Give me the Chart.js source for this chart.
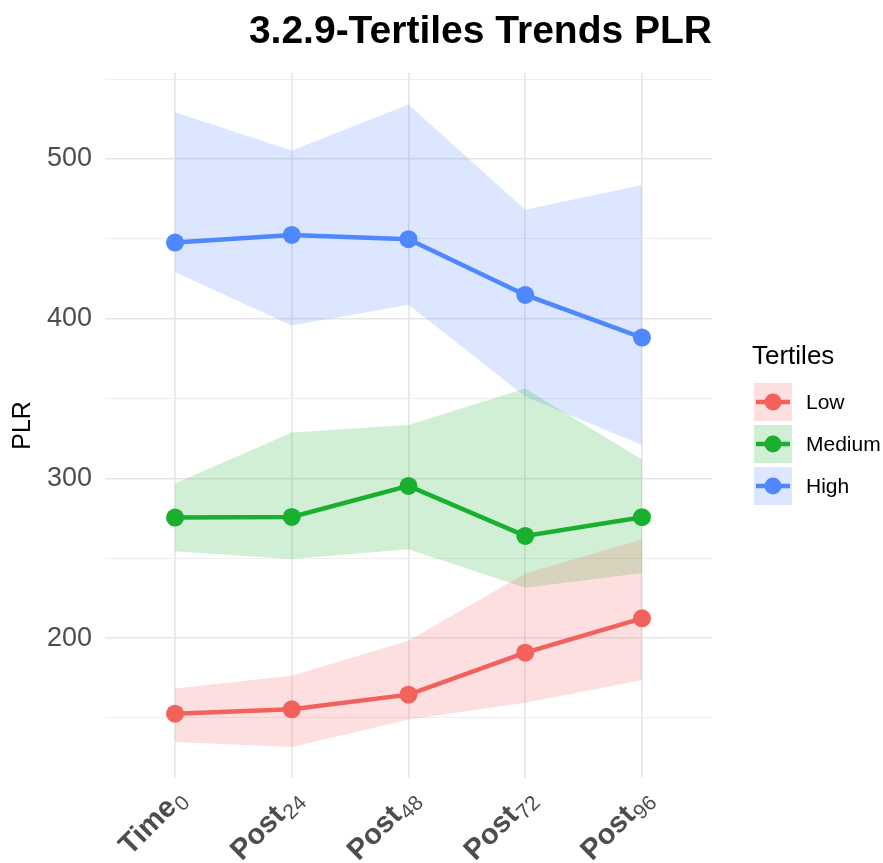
<!DOCTYPE html>
<html>
<head>
<meta charset="utf-8">
<title>3.2.9-Tertiles Trends PLR</title>
<script src="https://cdn.jsdelivr.net/npm/chart.js@4.4.1/dist/chart.umd.min.js"></script>
<style>
  html, body { margin: 0; padding: 0; background: #ffffff; }
  #plr-chart { display: block; }
</style>
</head>
<body>
<canvas id="plr-chart" width="883" height="863"></canvas>
<script>
// x categories: bold main text + subscript
const labelMain = ['Time', 'Post', 'Post', 'Post', 'Post'];
const labelSub = ['0', '24', '48', '72', '96'];

// y ticks (labels at the hundreds, minor grid in between)
const yTicks = [150, 200, 250, 300, 350, 400, 450, 500, 550];

// series
const lowMean = [152.7, 155.4, 164.6, 190.9, 212.4];
const lowUpper = [168.5, 176.5, 198.3, 240.4, 261.7];
const lowLower = [135.0, 131.8, 149.0, 159.5, 173.7];

const mediumMean = [275.5, 275.9, 295.3, 264.0, 275.7];
const mediumUpper = [296.8, 328.8, 333.5, 356.3, 311.9];
const mediumLower = [254.4, 249.6, 255.6, 231.6, 240.8];

const highMean = [447.7, 452.5, 449.8, 414.9, 388.2];
const highUpper = [529.3, 505.3, 534.1, 468.2, 483.8];
const highLower = [429.1, 395.7, 408.7, 351.3, 321.0];

const groupNames = ['Low', 'Medium', 'High'];
const groupColors = ['#F2615C', '#18B02E', '#4F87FF'];
const groupFills = ['rgba(242, 97, 92, 0.2)', 'rgba(24, 176, 46, 0.2)', 'rgba(79, 135, 255, 0.2)'];

const FONT = "'Liberation Sans', Arial, Helvetica, sans-serif";

function toPoints(values) {
    return values.map((v, i) => ({ x: i, y: v }));
}

function bandPair(upper, lower, fillColor) {
    return [
        {
            label: '',
            data: toPoints(upper),
            borderWidth: 0,
            borderColor: 'rgba(0,0,0,0)',
            pointRadius: 0,
            backgroundColor: fillColor,
            fill: '+1',
            tension: 0,
            order: 2
        },
        {
            label: '',
            data: toPoints(lower),
            borderWidth: 0,
            borderColor: 'rgba(0,0,0,0)',
            pointRadius: 0,
            fill: false,
            tension: 0,
            order: 2
        }
    ];
}

function meanLine(name, values, color) {
    return {
        label: name,
        data: toPoints(values),
        borderColor: color,
        backgroundColor: color,
        pointBackgroundColor: color,
        pointBorderWidth: 0,
        pointRadius: 9,
        borderWidth: 4.5,
        fill: false,
        tension: 0,
        order: 1
    };
}

// draws the rotated x labels with subscripts
const xLabelPlugin = {
    id: 'xLabels',
    afterDraw(chart) {
        const ctx = chart.ctx;
        const xScale = chart.scales.x;
        const bottom = chart.chartArea.bottom;
        labelMain.forEach((main, i) => {
            const x = xScale.getPixelForValue(i);
            ctx.save();
            ctx.translate(x + 16, bottom + 26);
            ctx.rotate(-Math.PI / 4);
            ctx.textAlign = 'right';
            ctx.textBaseline = 'alphabetic';
            ctx.fillStyle = '#4D4D4D';
            ctx.font = '21px ' + FONT;
            ctx.fillText(labelSub[i], 0, 0);
            const subW = ctx.measureText(labelSub[i]).width;
            ctx.font = 'bold 29px ' + FONT;
            ctx.fillText(main, -subW - 1, -6);
            ctx.restore();
        });
    }
};

// ggplot-like legend on the right
const legendPlugin = {
    id: 'tertileLegend',
    afterDraw(chart) {
        const ctx = chart.ctx;
        const keyX = 754, keyY = 383, keySize = 38, gap = 42;
        ctx.save();
        ctx.fillStyle = '#000000';
        ctx.font = '26px ' + FONT;
        ctx.textAlign = 'left';
        ctx.textBaseline = 'middle';
        ctx.fillText('Tertiles', 752, 357);

        groupNames.forEach((name, i) => {
            const y = keyY + i * gap;
            ctx.fillStyle = groupFills[i];
            ctx.fillRect(keyX, y, keySize, keySize);
            ctx.strokeStyle = groupColors[i];
            ctx.lineWidth = 4.5;
            ctx.beginPath();
            ctx.moveTo(keyX + 2, y + keySize / 2);
            ctx.lineTo(keyX + keySize - 2, y + keySize / 2);
            ctx.stroke();
            ctx.fillStyle = groupColors[i];
            ctx.beginPath();
            ctx.arc(keyX + keySize / 2, y + keySize / 2, 8.5, 0, Math.PI * 2);
            ctx.fill();
            ctx.fillStyle = '#000000';
            ctx.font = '21px ' + FONT;
            ctx.fillText(name, 806, y + keySize / 2 + 1);
        });
        ctx.restore();
    }
};

function isMajor(value) {
    return value % 100 === 0;
}

document.addEventListener('DOMContentLoaded', function() {
    const ctx = document.getElementById('plr-chart');

    const datasets = [
        ...bandPair(lowUpper, lowLower, groupFills[0]),
        ...bandPair(mediumUpper, mediumLower, groupFills[1]),
        ...bandPair(highUpper, highLower, groupFills[2]),
        meanLine('Low', lowMean, groupColors[0]),
        meanLine('Medium', mediumMean, groupColors[1]),
        meanLine('High', highMean, groupColors[2])
    ];

    new Chart(ctx.getContext('2d'), {
        type: 'line',
        data: { datasets: datasets },
        plugins: [xLabelPlugin, legendPlugin],
        options: {
            responsive: false,
            animation: false,
            layout: {
                padding: { left: 0, right: 171, top: 0, bottom: 0 }
            },
            plugins: {
                legend: { display: false },
                tooltip: { enabled: false },
                title: {
                    display: true,
                    text: '3.2.9-Tertiles Trends PLR',
                    align: 'end',
                    color: '#000000',
                    font: { family: FONT, size: 39, weight: 'bold', lineHeight: 1.2 },
                    padding: { top: 9, bottom: 17 }
                }
            },
            scales: {
                x: {
                    type: 'linear',
                    min: -0.6,
                    max: 4.6,
                    afterBuildTicks: function(scale) {
                        scale.ticks = labelMain.map((_, i) => ({ value: i }));
                    },
                    afterFit: function(scale) {
                        scale.height = 85;
                    },
                    ticks: { display: false },
                    grid: {
                        color: '#E6E6E6',
                        lineWidth: 1.6,
                        drawTicks: false
                    },
                    border: { display: false }
                },
                y: {
                    min: 112.4,
                    max: 554,
                    afterBuildTicks: function(scale) {
                        scale.ticks = yTicks.map(v => ({ value: v }));
                    },
                    afterFit: function(scale) {
                        scale.width = 105;
                    },
                    ticks: {
                        padding: 13,
                        color: '#4D4D4D',
                        font: { family: FONT, size: 27 },
                        callback: function(value) {
                            return isMajor(value) ? String(value) : '';
                        }
                    },
                    grid: {
                        color: function(c) {
                            return c.tick && isMajor(c.tick.value) ? '#E6E6E6' : '#EEEEEE';
                        },
                        lineWidth: function(c) {
                            return c.tick && isMajor(c.tick.value) ? 1.6 : 1;
                        },
                        drawTicks: false
                    },
                    border: { display: false },
                    title: {
                        display: true,
                        text: 'PLR',
                        color: '#000000',
                        font: { family: FONT, size: 25, lineHeight: 1.2 },
                        padding: { top: 8, bottom: 0 }
                    }
                }
            }
        }
    });
});
</script>
</body>
</html>
